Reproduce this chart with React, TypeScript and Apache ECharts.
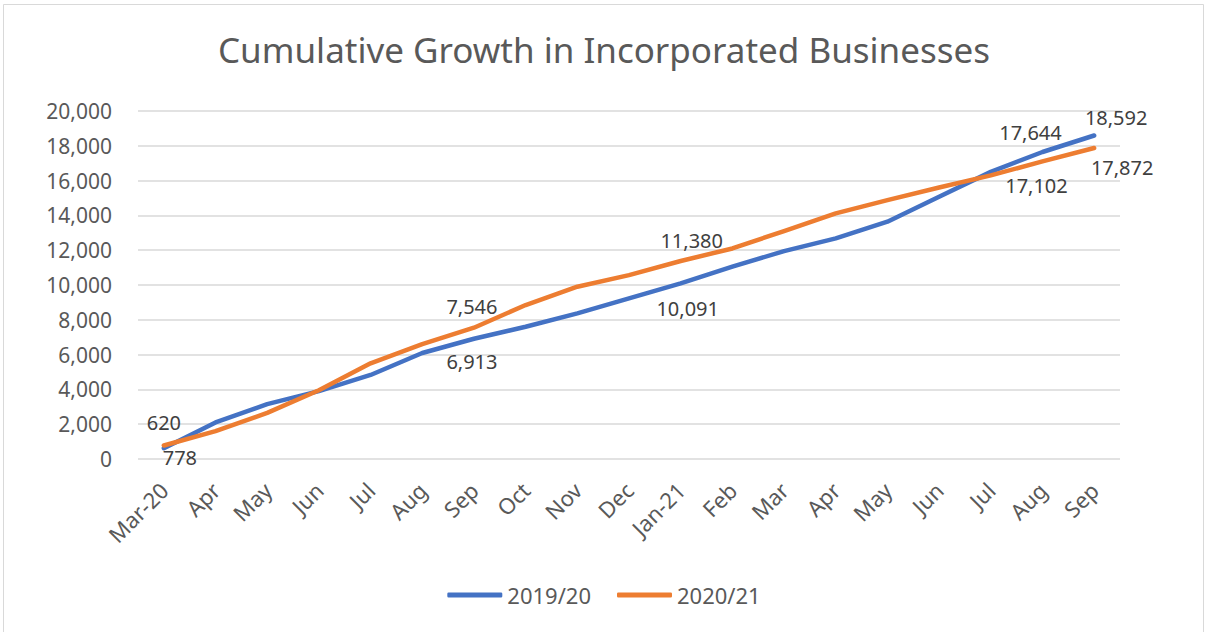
import React, { useEffect, useRef } from "react";
import * as echarts from "echarts";

const categories = ["Mar-20", "Apr", "May", "Jun", "Jul", "Aug", "Sep", "Oct", "Nov", "Dec", "Jan-21", "Feb", "Mar", "Apr", "May", "Jun", "Jul", "Aug", "Sep"];
const series1920 = [620, 2100, 3150, 3900, 4830, 6090, 6913, 7600, 8370, 9230, 10091, 11050, 11950, 12680, 13640, 15070, 16500, 17644, 18592];
const series2021 = [778, 1600, 2650, 3950, 5500, 6600, 7546, 8850, 9900, 10570, 11380, 12100, 13100, 14120, 14880, 15600, 16300, 17102, 17872];
const yTicks = { min: 0, max: 20000, interval: 2000 };

// label placement (style): index -> [dx, dy] offset of label centre from the point
const labelOffsets1920: Record<number, [number, number]> = { 0: [0, -26], 6: [-2, 23], 10: [7, 25], 17: [-12, -19], 18: [22, -18] };
const labelOffsets2021: Record<number, [number, number]> = { 0: [16, 12], 6: [-2, -21], 10: [11, -20], 17: [-6, 24], 18: [28, 19] };

const FONT = "'Noto Sans', 'Open Sans', sans-serif";

function buildData(values: number[], offsets: Record<number, [number, number]>) {
  return values.map((v, i) =>
    offsets[i]
      ? {
          value: v,
          label: {
            show: true,
            position: "inside",
            offset: offsets[i],
            align: "center",
            verticalAlign: "middle",
            formatter: (p: any) => Number(p.value).toLocaleString("en-US"),
            color: "#404040",
            fontSize: 20,
            fontFamily: FONT,
          },
        }
      : { value: v }
  );
}

export default function App() {
  const ref = useRef<HTMLDivElement>(null);
  useEffect(() => {
    if (!ref.current) return;
    const chart = echarts.init(ref.current, null, { renderer: "svg" });
    chart.setOption({
      animation: false,
      backgroundColor: "#ffffff",
      graphic: [
        {
          type: "rect",
          shape: { x: 3.5, y: 4.5, width: 1200, height: 640 },
          style: { fill: "none", stroke: "#d9d9d9", lineWidth: 1 },
          silent: true,
        },
      ],
      title: {
        text: "Cumulative Growth in Incorporated Businesses",
        left: "center",
        top: 27,
        textStyle: { color: "#595959", fontSize: 35, fontWeight: "normal", fontFamily: FONT },
      },
      legend: {
        bottom: 21,
        left: "center",
        icon: "roundRect",
        itemWidth: 55,
        itemHeight: 5,
        itemGap: 26,
        textStyle: { color: "#595959", fontSize: 22, fontFamily: FONT },
        data: ["2019/20", "2020/21"],
      },
      grid: { left: 138, right: 88, top: 111, bottom: 173, containLabel: false },
      xAxis: {
        type: "category",
        data: categories,
        boundaryGap: true,
        axisLine: { show: false },
        axisTick: { show: false },
        axisLabel: { rotate: 45, color: "#595959", fontSize: 22, fontFamily: FONT, margin: 27, interval: 0 },
      },
      yAxis: {
        type: "value",
        min: yTicks.min,
        max: yTicks.max,
        interval: yTicks.interval,
        axisLine: { show: false },
        axisTick: { show: false },
        splitLine: { lineStyle: { color: "#d9d9d9", width: 1.5 } },
        axisLabel: {
          color: "#595959",
          fontSize: 21,
          fontFamily: FONT,
          margin: 26,
          formatter: (v: number) => v.toLocaleString("en-US"),
        },
      },
      series: [
        {
          name: "2019/20",
          type: "line",
          data: buildData(series1920, labelOffsets1920),
          symbol: "circle",
          symbolSize: 1,
          showSymbol: true,
          lineStyle: { color: "#4472C4", width: 4.5, cap: "round", join: "round" },
          itemStyle: { color: "#4472C4" },
          z: 2,
        },
        {
          name: "2020/21",
          type: "line",
          data: buildData(series2021, labelOffsets2021),
          symbol: "circle",
          symbolSize: 1,
          showSymbol: true,
          lineStyle: { color: "#ED7D31", width: 4.5, cap: "round", join: "round" },
          itemStyle: { color: "#ED7D31" },
          z: 3,
        },
      ],
    });
    return () => chart.dispose();
  }, []);
  return <div ref={ref} style={{ position: "fixed", left: 0, top: 0, width: 1208, height: 632 }} />;
}
